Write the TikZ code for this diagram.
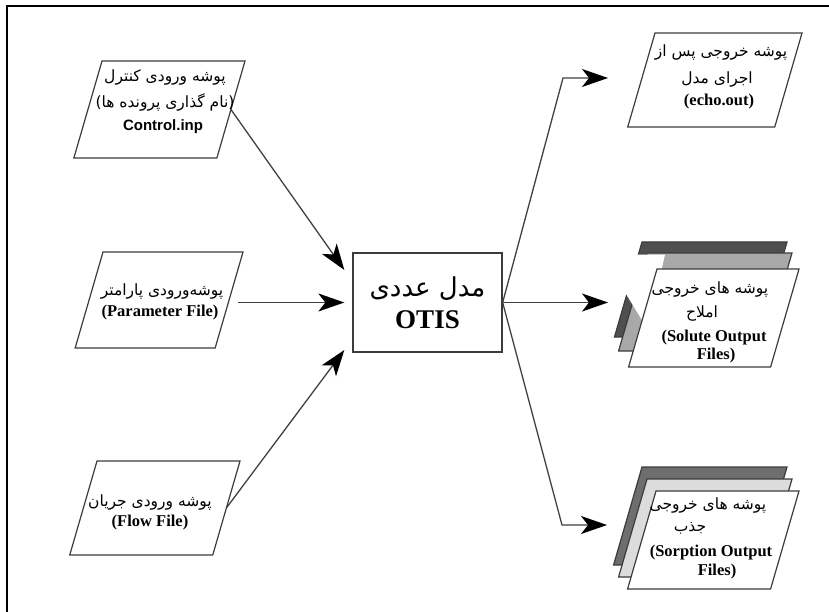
\documentclass[tikz,border=0pt]{standalone}
\usepackage{fontspec}
\usetikzlibrary{arrows.meta,calc}
\TeXXeTstate=1
\newfontfamily\fa[Script=Arabic]{DejaVu Sans}
\newfontfamily\lsans{Liberation Sans}
\newfontfamily\lserif{Liberation Serif}

\definecolor{boxgray}{HTML}{3C3C3C}
\definecolor{linkgray}{HTML}{404040}
\definecolor{soldark}{HTML}{4F4F4F}
\definecolor{sollight}{HTML}{A8A8A8}
\definecolor{sordark}{HTML}{6E6E6E}
\definecolor{sorlight}{HTML}{DCDCDC}

% a leaning file sheet: name, top-left x, top-left y, width, height, style
\newcommand\filesheet[6]{%
  \draw[#6] (#2,#3) -- ++(#4,0) -- ++({-0.29*#5},#5) -- ++(-#4,0) -- cycle;
  \coordinate (#1-e) at ({#2+#4-0.145*#5},{#3+0.5*#5});
}

\tikzset{
  sheet/.style={draw=boxgray, line width=1.2pt, fill=white, line join=miter},
  link/.style={draw=linkgray, line width=1.3pt,
    -{Stealth[length=26pt,width=18pt,inset=7pt,color=black]}},
  fatxt/.style={font=\fa\fontsize{15.5}{18}\selectfont, inner sep=0pt},
  serifbold/.style={font=\lserif\bfseries\fontsize{16.5}{18}\selectfont, inner sep=0pt},
  sansbold/.style={font=\lsans\bfseries\fontsize{15}{17}\selectfont, inner sep=0pt},
}

\begin{document}
\begin{tikzpicture}[x=1pt,y=-1pt]
\useasboundingbox (0,0) rectangle (829,612);

% frame
\draw[line width=2.5pt, line cap=rect] (7.2,612) -- (7.2,6.2) -- (829,6.2);

% input files
\filesheet{ctl}{102}{61}{143}{97}{sheet}
\node[fatxt] (ctl-t1) at (165,78) {\beginR پوشه ورودی کنترل\endR};
\node[fatxt] (ctl-t2) at (165,102) {\beginR (نام گذاری پرونده ها)\endR};
\node[sansbold] (ctl-t3) at (163,127) {Control.inp};

\filesheet{param}{103}{252}{140}{96}{sheet}
\node[fatxt] (param-t1) at (162,292) {\beginR پوشه‌ورودی پارامتر\endR};
\node[serifbold] (param-t2) at (160,313) {(Parameter File)};

\filesheet{flow}{97}{461}{143}{94}{sheet}
\node[fatxt] (flow-t1) at (150,502) {\beginR پوشه ورودی جریان\endR};
\node[serifbold] (flow-t2) at (150,523) {(Flow File)};

% model
\node[draw=boxgray, line width=1.3pt, minimum width=149pt, minimum height=99pt,
      inner sep=0pt] (otis) at (427.5,302.5) {};
\node[font=\fa\fontsize{26}{30}\selectfont, inner sep=0pt] (otis-t1) at (427.5,289) {\beginR مدل عددی\endR};
\node[font=\lserif\bfseries\fontsize{27}{30}\selectfont, inner sep=0pt] (otis-t2) at (427.5,320) {OTIS};

% output files
\filesheet{echo}{655}{33}{147}{94}{sheet}
\node[fatxt] (echo-t1) at (721,53) {\beginR پوشه خروجی پس از\endR};
\node[fatxt] (echo-t2) at (717,80) {\beginR اجرای مدل\endR};
\node[serifbold] (echo-t3) at (719,102) {(echo.out)};

\filesheet{solA}{642}{242}{145}{95}{sheet, fill=soldark}
\filesheet{solB}{647}{253}{145}{98}{sheet, fill=sollight}
\fill[white] (600,254.5) -- (665,254.5) -- (648,330) -- (626,294) -- (600,294) -- cycle;
\filesheet{sol}{657}{269}{142}{98}{sheet}
\node[fatxt] (sol-t1) at (710,290) {\beginR پوشه های خروجی\endR};
\node[fatxt] (sol-t2) at (702,314) {\beginR املاح\endR};
\node[serifbold] (sol-t3) at (714,338) {(Solute Output};
\node[serifbold] (sol-t4) at (716,356) {Files)};

\filesheet{sorA}{642}{467}{145}{98}{sheet, fill=sordark}
\filesheet{sorB}{647}{479}{145}{98}{sheet, fill=sorlight}
\filesheet{sor}{656}{491}{143}{98}{sheet}
\node[fatxt] (sor-t1) at (708,505) {\beginR پوشه های خروجی\endR};
\node[fatxt] (sor-t2) at (690,528) {\beginR جذب\endR};
\node[serifbold] (sor-t3) at (711,553) {(Sorption Output};
\node[serifbold] (sor-t4) at (717,572) {Files)};

% connectors into the model
\draw[link] (ctl-e) -- ([xshift=-8pt,yshift=32.5pt]otis.west);
\draw[link] ([xshift=9pt]param-e |- otis.west) -- ([xshift=-8pt]otis.west);
\draw[link] (flow-e) -- ([xshift=-8pt,yshift=-47.5pt]otis.west);

% connectors out of the model
\coordinate (bend-up) at (563,78);
\coordinate (echo-in) at (608,78);
\coordinate (sol-in) at (608,302.5);
\coordinate (bend-down) at (562,525);
\coordinate (sor-in) at (607,525);
\draw[link] (otis.east) -- (bend-up) -- (echo-in);
\draw[link] (otis.east) -- (sol-in);
\draw[link] (otis.east) -- (bend-down) -- (sor-in);
\end{tikzpicture}
\end{document}
